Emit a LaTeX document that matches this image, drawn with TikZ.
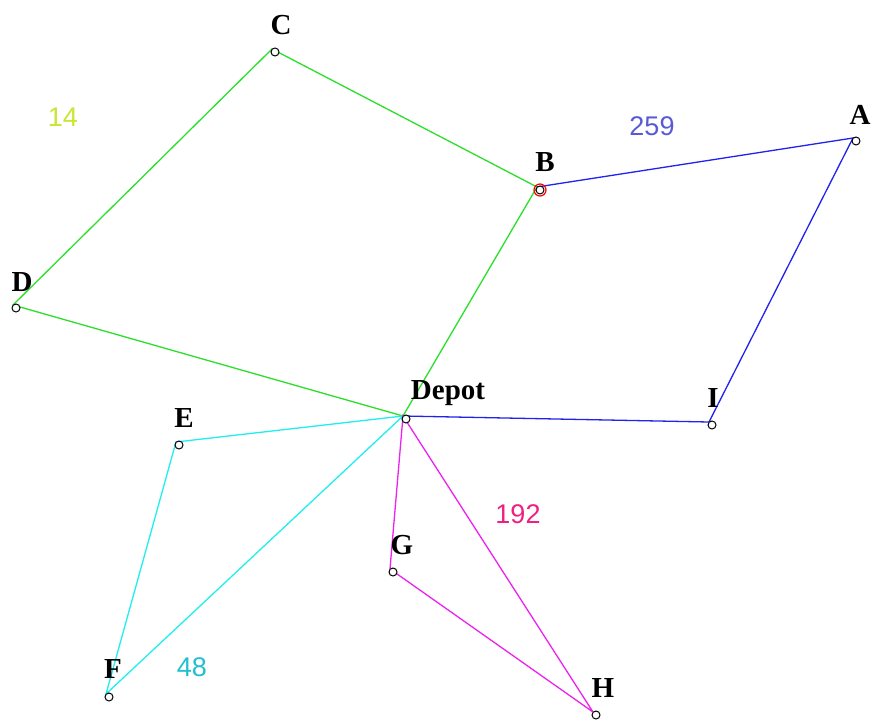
\documentclass[tikz,border=0pt]{standalone}
\usepackage{fontspec}
\setmainfont{Liberation Serif}
\newfontfamily\costfont{Liberation Sans}
\definecolor{rgreen}{HTML}{2AE02A}
\definecolor{rblue}{HTML}{2222EE}
\definecolor{rcyan}{HTML}{22EEEE}
\definecolor{rmagenta}{HTML}{EE22EE}
\definecolor{c14}{HTML}{C8E632}
\definecolor{c259}{HTML}{5A5AD8}
\definecolor{c192}{HTML}{F02080}
\definecolor{c48}{HTML}{20C0D0}
\begin{document}
\begin{tikzpicture}
[x=1pt,y=-1pt,%
  stop/.style={shape=circle,draw,fill=white,line width=1pt,inner sep=0pt,minimum size=8pt},%
  lbl/.style={font=\fontsize{29}{30}\selectfont\bfseries,inner sep=0pt},%
  cost/.style={font=\costfont\fontsize{27}{28}\selectfont,inner sep=0pt},%
  route/.style={line width=1.3pt}]
\useasboundingbox[fill=white] (0,0) rectangle (872,722);
% customers
\coordinate (A) at (853,138);
\coordinate (B) at (537,187);
\coordinate (C) at (272,49);
\coordinate (D) at (13,305);
\coordinate (Depot) at (403,416);
\coordinate (E) at (176,442);
\coordinate (F) at (106,694);
\coordinate (G) at (390,569);
\coordinate (H) at (593,712);
\coordinate (I) at (709,422);
% routes
\draw[route,rgreen] (Depot) -- (B) -- (C) -- (D) -- cycle;
\draw[route,rblue] (Depot) -- (I) -- (A) -- (B);
\draw[route,rcyan] (Depot) -- (E) -- (F) -- cycle;
\draw[route,rmagenta] (Depot) -- (G) -- (H) -- cycle;
% markers
\foreach \p in {A,B,C,D,Depot,E,F,G,H,I}
  \node[stop] (m\p) at ([shift={(3,3)}]\p) {};
\draw[red,line width=1.2pt] (mB) circle (6pt);
% labels
\node[lbl] (lA) at (860,115) {A};
\node[lbl] (lB) at (545,162) {B};
\node[lbl] (lC) at (281,25) {C};
\node[lbl] (lD) at (22,282) {D};
\node[lbl] (lDepot) at (448,393) {Depot};
\node[lbl] (lE) at (184,418) {E};
\node[lbl] (lF) at (113,669) {F};
\node[lbl] (lG) at (402,545) {G};
\node[lbl] (lH) at (603,688) {H};
\node[lbl] (lI) at (713,398) {I};
% costs
\node[cost,c14] (k14) at (63,117) {14};
\node[cost,c259] (k259) at (652,126) {259};
\node[cost,c192] (k192) at (518,514) {192};
\node[cost,c48] (k48) at (192,667) {48};
\end{tikzpicture}
\end{document}
